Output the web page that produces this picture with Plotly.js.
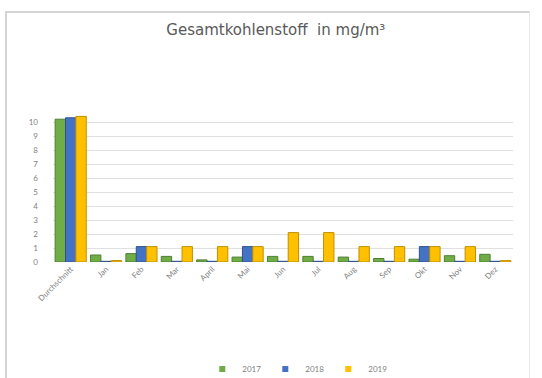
<!DOCTYPE html>
<html>
<head>
<meta charset="utf-8">
<script src="https://cdn.plot.ly/plotly-3.0.1.min.js"></script>
<style>
  html, body { margin: 0; padding: 0; background: #ffffff; }
  #frame { position: absolute; left: 5px; top: 11px; width: 522px; height: 367px;
           border-left: 2px solid #d4d4d4; border-top: 2px solid #d4d4d4; border-right: 1px solid #e8e8e8; }
  #chart { width: 522px; height: 367px; }
</style>
</head>
<body>
<div id="frame"><div id="chart"></div></div>
<script>
const categories = ["Durchschnitt", "Jan", "Feb", "Mar", "April", "Mai", "Jun", "Jul", "Aug", "Sep", "Okt", "Nov", "Dez"];
const values2017 = [10.2, 0.5, 0.6, 0.4, 0.15, 0.35, 0.4, 0.4, 0.35, 0.25, 0.2, 0.45, 0.55];
const values2018 = [10.3, 0.05, 1.1, 0.05, 0.05, 1.1, 0.05, 0.05, 0.05, 0.05, 1.1, 0.05, 0.05];
const values2019 = [10.4, 0.1, 1.1, 1.1, 1.1, 1.1, 2.1, 2.1, 1.1, 1.1, 1.1, 1.1, 0.1];
const seriesNames = ["2017", "2018", "2019"];
const yTicks = [0, 1, 2, 3, 4, 5, 6, 7, 8, 9, 10];

const colors = ["#70AD47", "#4472C4", "#FFC000"];
const edges = ["#4e7f31", "#2f528f", "#bf9000"];
const allValues = [values2017, values2018, values2019];

const barTraces = allValues.map((vals, i) => ({
  type: "bar",
  name: seriesNames[i],
  x: categories,
  y: vals,
  showlegend: false,
  marker: { color: colors[i], line: { color: edges[i], width: 1 } },
  hoverinfo: "x+y+name"
}));

// legend-only entries with small square swatches (like the Excel legend)
const legendTraces = seriesNames.map((name, i) => ({
  type: "scatter",
  mode: "markers",
  name: name,
  x: [null],
  y: [null],
  marker: { symbol: "square", size: 6, color: colors[i] },
  showlegend: true
}));

const layout = {
  width: 522,
  height: 367,
  paper_bgcolor: "#ffffff",
  plot_bgcolor: "#ffffff",
  margin: { l: 46, r: 16, t: 95, b: 118 },
  title: {
    text: "Gesamtkohlenstoff  in mg/m³",
    font: { family: "'DejaVu Sans', sans-serif", size: 15, color: "#595959" },
    x: 0.515, xanchor: "center",
    y: 0.955, yanchor: "middle", yref: "container"
  },
  barmode: "group",
  bargap: 0.12,
  bargroupgap: 0.0,
  xaxis: {
    type: "category",
    tickangle: -45,
    tickfont: { family: "Lato, sans-serif", size: 8, color: "#7f7f7f" },
    showgrid: false,
    showline: false,
    zeroline: false,
    ticks: ""
  },
  yaxis: {
    range: [0, 11],
    tickvals: yTicks,
    ticktext: yTicks.map(String),
    tickfont: { family: "Lato, sans-serif", size: 8, color: "#7f7f7f" },
    ticklabelstandoff: 14,
    showgrid: true,
    gridcolor: "#e0e0e0",
    gridwidth: 1,
    zeroline: false,
    showline: false,
    ticks: ""
  },
  showlegend: true,
  legend: {
    orientation: "h",
    x: 0.53, xanchor: "center",
    y: 0.03, yanchor: "middle", yref: "container",
    font: { family: "Lato, sans-serif", size: 8, color: "#7f7f7f" },
    itemwidth: 30,
    entrywidth: 18,
    tracegroupgap: 0
  }
};

Plotly.newPlot("chart", barTraces.concat(legendTraces), layout, { displayModeBar: false, staticPlot: true });
</script>
</body>
</html>
